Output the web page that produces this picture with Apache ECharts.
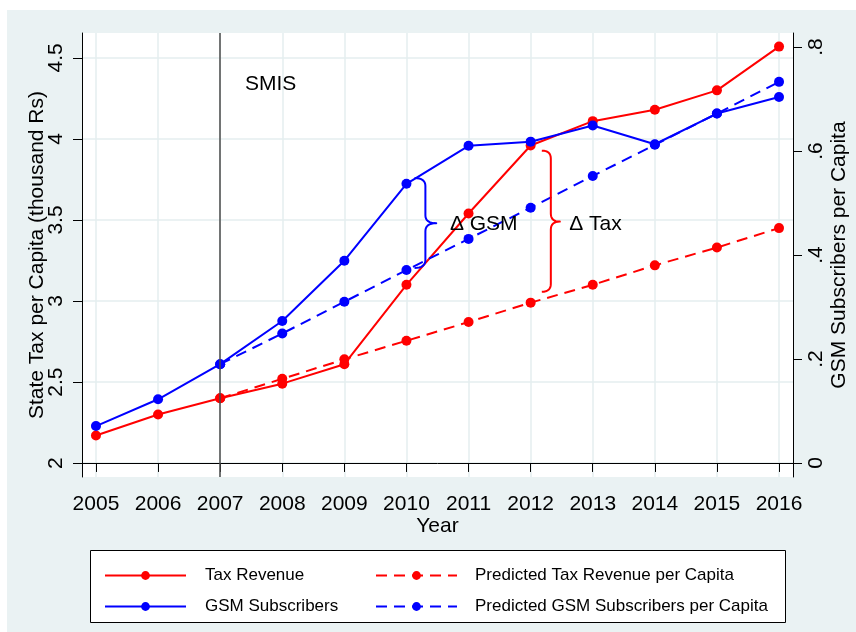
<!DOCTYPE html>
<html>
<head>
<meta charset="utf-8">
<script src="https://cdn.jsdelivr.net/npm/echarts@6/dist/echarts.min.js"></script>
<style>
html,body{margin:0;padding:0;background:#fff}
#main{width:856px;height:632px}
</style>
</head>
<body>
<div id="main"></div>
<script>
var years=[2005,2006,2007,2008,2009,2010,2011,2012,2013,2014,2015,2016];
var taxRevenue=[2.17,2.30,2.40,2.49,2.61,3.10,3.54,3.96,4.11,4.18,4.30,4.57];
var predTax=[null,null,2.40,2.52,2.64,2.755,2.87,2.99,3.10,3.22,3.33,3.45];
var gsmSubs=[0.071,0.1225,0.190,0.273,0.389,0.537,0.610,0.618,0.649,0.613,0.672,0.704];
var predGsm=[null,null,0.190,0.249,0.310,0.371,0.431,0.491,0.552,0.612,0.672,0.733];
var taxTicks=[2,2.5,3,3.5,4,4.5];
var gsmTicks=[0,0.2,0.4,0.6,0.8];
var policyYear=2007;

var FONT='"Liberation Sans", Arial, sans-serif';
var bg='#EAF2F3';
var gridCol='#E4EEEF';

function pairs(vals){
  var out=[];
  for(var i=0;i<years.length;i++){
    if(vals[i]!=null) out.push([years[i],vals[i]]);
  }
  return out;
}
function lineSeries(name,vals,color,dashed,yIdx){
  return {
    name:name,
    type:'line',
    yAxisIndex:yIdx,
    data:pairs(vals),
    symbol:'circle',
    symbolSize:10,
    showSymbol:true,
    itemStyle:{color:color},
    lineStyle:{color:color,width:2,type:dashed?[11,7]:'solid'},
    emphasis:{disabled:true}
  };
}

var chart=echarts.init(document.getElementById('main'));
var s1=lineSeries('Tax Revenue',taxRevenue,'#ff0000',false,0);
s1.markLine={
  silent:true,
  symbol:'none',
  label:{show:false},
  lineStyle:{color:'#4a4a4a',width:1.5,type:'solid'},
  data:[{xAxis:policyYear}]
};
var option={
  backgroundColor:'#fff',
  animation:false,
  textStyle:{fontFamily:FONT},
  grid:{
    left:82,right:63,top:33,bottom:155,
    outerBoundsMode:'none',
    show:true,backgroundColor:'#fff',borderWidth:0
  },
  legend:[{
    data:['Tax Revenue','GSM Subscribers'],
    orient:'vertical',
    left:99,top:562,
    itemWidth:81,itemHeight:11,itemGap:14,
    z:5,
    textStyle:{fontFamily:FONT,fontSize:17,color:'#000',padding:[0,0,0,14]}
  },{
    data:['Predicted Tax Revenue per Capita','Predicted GSM Subscribers per Capita'],
    orient:'vertical',
    left:370,top:562,
    itemWidth:81,itemHeight:11,itemGap:14,
    z:5,
    textStyle:{fontFamily:FONT,fontSize:17,color:'#000',padding:[0,0,0,13]}
  }],
  xAxis:{
    type:'value',
    min:2004.775,max:2016.225,
    name:'Year',
    nameLocation:'middle',
    nameGap:39,
    nameMoveOverlap:false,
    nameTextStyle:{fontFamily:FONT,fontSize:21,color:'#000'},
    axisLine:{show:true,lineStyle:{color:'#000',width:1}},
    axisTick:{show:true,length:9,customValues:years,lineStyle:{color:'#000'}},
    axisLabel:{customValues:years,margin:17,fontFamily:FONT,fontSize:21,color:'#000',
      formatter:function(v){return String(v);}},
    splitLine:{show:true,lineStyle:{color:gridCol,width:1.5}}
  },
  yAxis:[{
    type:'value',
    position:'left',
    min:1.914,max:4.654,
    name:'State Tax per Capita (thousand Rs)',
    nameLocation:'middle',
    nameRotate:90,
    nameGap:34,
    nameMoveOverlap:false,
    nameTextStyle:{fontFamily:FONT,fontSize:21,color:'#000'},
    axisLine:{show:true,lineStyle:{color:'#000',width:1}},
    axisTick:{show:true,length:9,customValues:taxTicks,lineStyle:{color:'#000'}},
    axisLabel:{customValues:taxTicks,rotate:90,margin:15,fontFamily:FONT,fontSize:21,color:'#000',
      formatter:function(v){return String(v);}},
    splitLine:{show:true,lineStyle:{color:gridCol,width:1.5}}
  },{
    type:'value',
    position:'right',
    min:-0.027,max:0.827,
    name:'GSM Subscribers per Capita',
    nameLocation:'middle',
    nameRotate:90,
    nameGap:36,
    nameMoveOverlap:false,
    nameTextStyle:{fontFamily:FONT,fontSize:21,color:'#000'},
    axisLine:{show:true,lineStyle:{color:'#000',width:1}},
    axisTick:{show:true,length:9,customValues:gsmTicks,lineStyle:{color:'#000'}},
    axisLabel:{customValues:gsmTicks,rotate:90,margin:13,fontFamily:FONT,fontSize:21,color:'#000',
      formatter:function(v){return v===0?'0':String(v).replace(/^0/,'');}},
    splitLine:{show:false}
  }],
  series:[
    s1,
    lineSeries('Predicted Tax Revenue per Capita',predTax,'#ff0000',true,0),
    lineSeries('GSM Subscribers',gsmSubs,'#0000ff',false,1),
    lineSeries('Predicted GSM Subscribers per Capita',predGsm,'#0000ff',true,1)
  ]
};
chart.setOption(option);

// annotations (left-axis data units)
function px(x,y){return chart.convertToPixel({seriesIndex:0},[x,y]);}
function quad(pts,p0,c,p1){
  for(var i=1;i<=8;i++){
    var t=i/8,u=1-t;
    pts.push([u*u*p0[0]+2*u*t*c[0]+t*t*p1[0],u*u*p0[1]+2*u*t*c[1]+t*t*p1[1]]);
  }
}
function bracePoints(x0,xt,yTop,yBot,yMid){
  var a=px(x0,yTop),b=px(x0,yBot),t=px(xt,yMid);
  var X0=a[0],XT=t[0],XM=(X0+XT)/2,Y1=a[1],Y2=b[1],YM=t[1],r=8;
  var pts=[[X0,Y1]];
  quad(pts,[X0,Y1],[XM,Y1],[XM,Y1+r]);
  pts.push([XM,YM-r]);
  quad(pts,[XM,YM-r],[XM,YM],[XT,YM]);
  quad(pts,[XT,YM],[XM,YM],[XM,YM+r]);
  pts.push([XM,Y2-r]);
  quad(pts,[XM,Y2-r],[XM,Y2],[X0,Y2]);
  return pts;
}
function label(id,text,x,y){
  var p=px(x,y);
  return {type:'text',id:id,x:p[0],y:p[1],z:10,
    style:{text:text,fill:'#000',font:'21px '+FONT,align:'left',verticalAlign:'middle'}};
}
chart.setOption({
  graphic:[
    {type:'rect',id:'outer',z:-10,shape:{x:7,y:10,width:849,height:622},style:{fill:bg}},
    {type:'rect',id:'legendBox',z:3,shape:{x:90.5,y:550.5,width:695,height:72},
      style:{fill:'#fff',stroke:'#000',lineWidth:1}},
    label('smis','SMIS',2007.4,4.34),
    {type:'polyline',id:'braceGsm',z:10,shape:{points:bracePoints(2010.13,2010.48,3.759,3.204,3.48)},
      style:{fill:null,stroke:'#0000ff',lineWidth:2,lineJoin:'round'}},
    {type:'polyline',id:'braceTax',z:10,shape:{points:bracePoints(2012.18,2012.47,3.928,3.057,3.49)},
      style:{fill:null,stroke:'#ff0000',lineWidth:2,lineJoin:'round'}},
    label('dGsm','\u0394 GSM',2010.70,3.475),
    label('dTax','\u0394 Tax',2012.62,3.475)
  ]
});
</script>
</body>
</html>
